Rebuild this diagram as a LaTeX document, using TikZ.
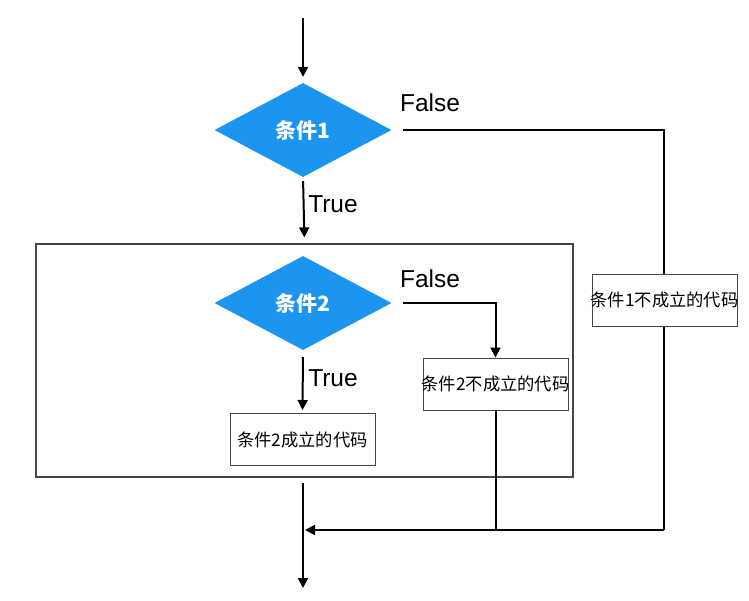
\documentclass[tikz,border=0pt]{standalone}
\usepackage{fontspec}
\setmainfont{Liberation Sans}
\newfontfamily\cjk{Noto Sans CJK SC}
\usetikzlibrary{shapes.geometric,arrows.meta}
\definecolor{dblue}{RGB}{27,149,240}
\definecolor{boxline}{RGB}{70,70,70}
\newcommand{\boxtext}[1]{\makebox[0pt][c]{#1}}
\tikzset{
  conn/.style={line width=2pt,draw=black},
  arr/.style={conn,-{Triangle[length=10pt,width=10pt]}},
  cond/.style={diamond,fill=dblue,draw=none,minimum width=177pt,minimum height=94pt,inner sep=0pt,
    text=white,font=\cjk\bfseries\fontsize{21}{24}\selectfont},
  codebox/.style={rectangle,draw=boxline,line width=1pt,fill=white,minimum width=145pt,minimum height=52pt,
    inner sep=0pt,font=\cjk\fontsize{17.3}{20}\selectfont},
  lbl/.style={font=\fontsize{24.5}{28}\selectfont,inner sep=0pt},
}
\begin{document}
\begin{tikzpicture}[x=1pt,y=-1pt]
\path[use as bounding box,fill=white] (0,0) rectangle (749,600);
% group rectangle
\node[draw=boxline,line width=1.2pt,minimum width=537pt,minimum height=233pt,inner sep=0pt] (grp) at (304.5,360.5) {};
% nodes
\coordinate (s) at (303,18);
\node[cond] (d1) at (303,130) {条件1};
\node[cond] (d2) at (303,303) {条件2};
\node[codebox] (c2t) at (302.5,439.5) {\boxtext{条件2成立的代码}};
\node[codebox] (c2f) at (495.5,384) {\boxtext{条件2不成立的代码}};
\coordinate (j) at (303,530);
\coordinate (e1) at (303,483);
\coordinate (e2) at (303,588);
\coordinate (r1) at (664,130);
% labels
\node[lbl] (lf1) at (430,103) {False};
\node[lbl] (lt1) at (333,204) {True};
\node[lbl] (lf2) at (430,279) {False};
\node[lbl] (lt2) at (333,378) {True};
% connectors
\draw[arr,shorten >=6pt] (s) -- (d1.north);
\draw[arr,shorten <=4pt,shorten >=6pt] (d1.south) -- (grp.north);
\draw[arr,shorten <=7pt,shorten >=3pt] (d2.south) -- (c2t.north);
\draw[arr,shorten <=11pt] (d2.east) -| (c2f.north);
\draw[conn,shorten <=11pt] (d1.east) -- (r1) -- (r1 |- j);
\draw[arr,shorten >=2pt] (r1 |- j) -- (j);
\draw[conn] (c2f.south) -- (c2f.south |- j);
\draw[arr] (e1) -- (e2);
% box on the right line
\node[codebox] (c1f) at (664.5,300) {\boxtext{条件1不成立的代码}};
\end{tikzpicture}
\end{document}
